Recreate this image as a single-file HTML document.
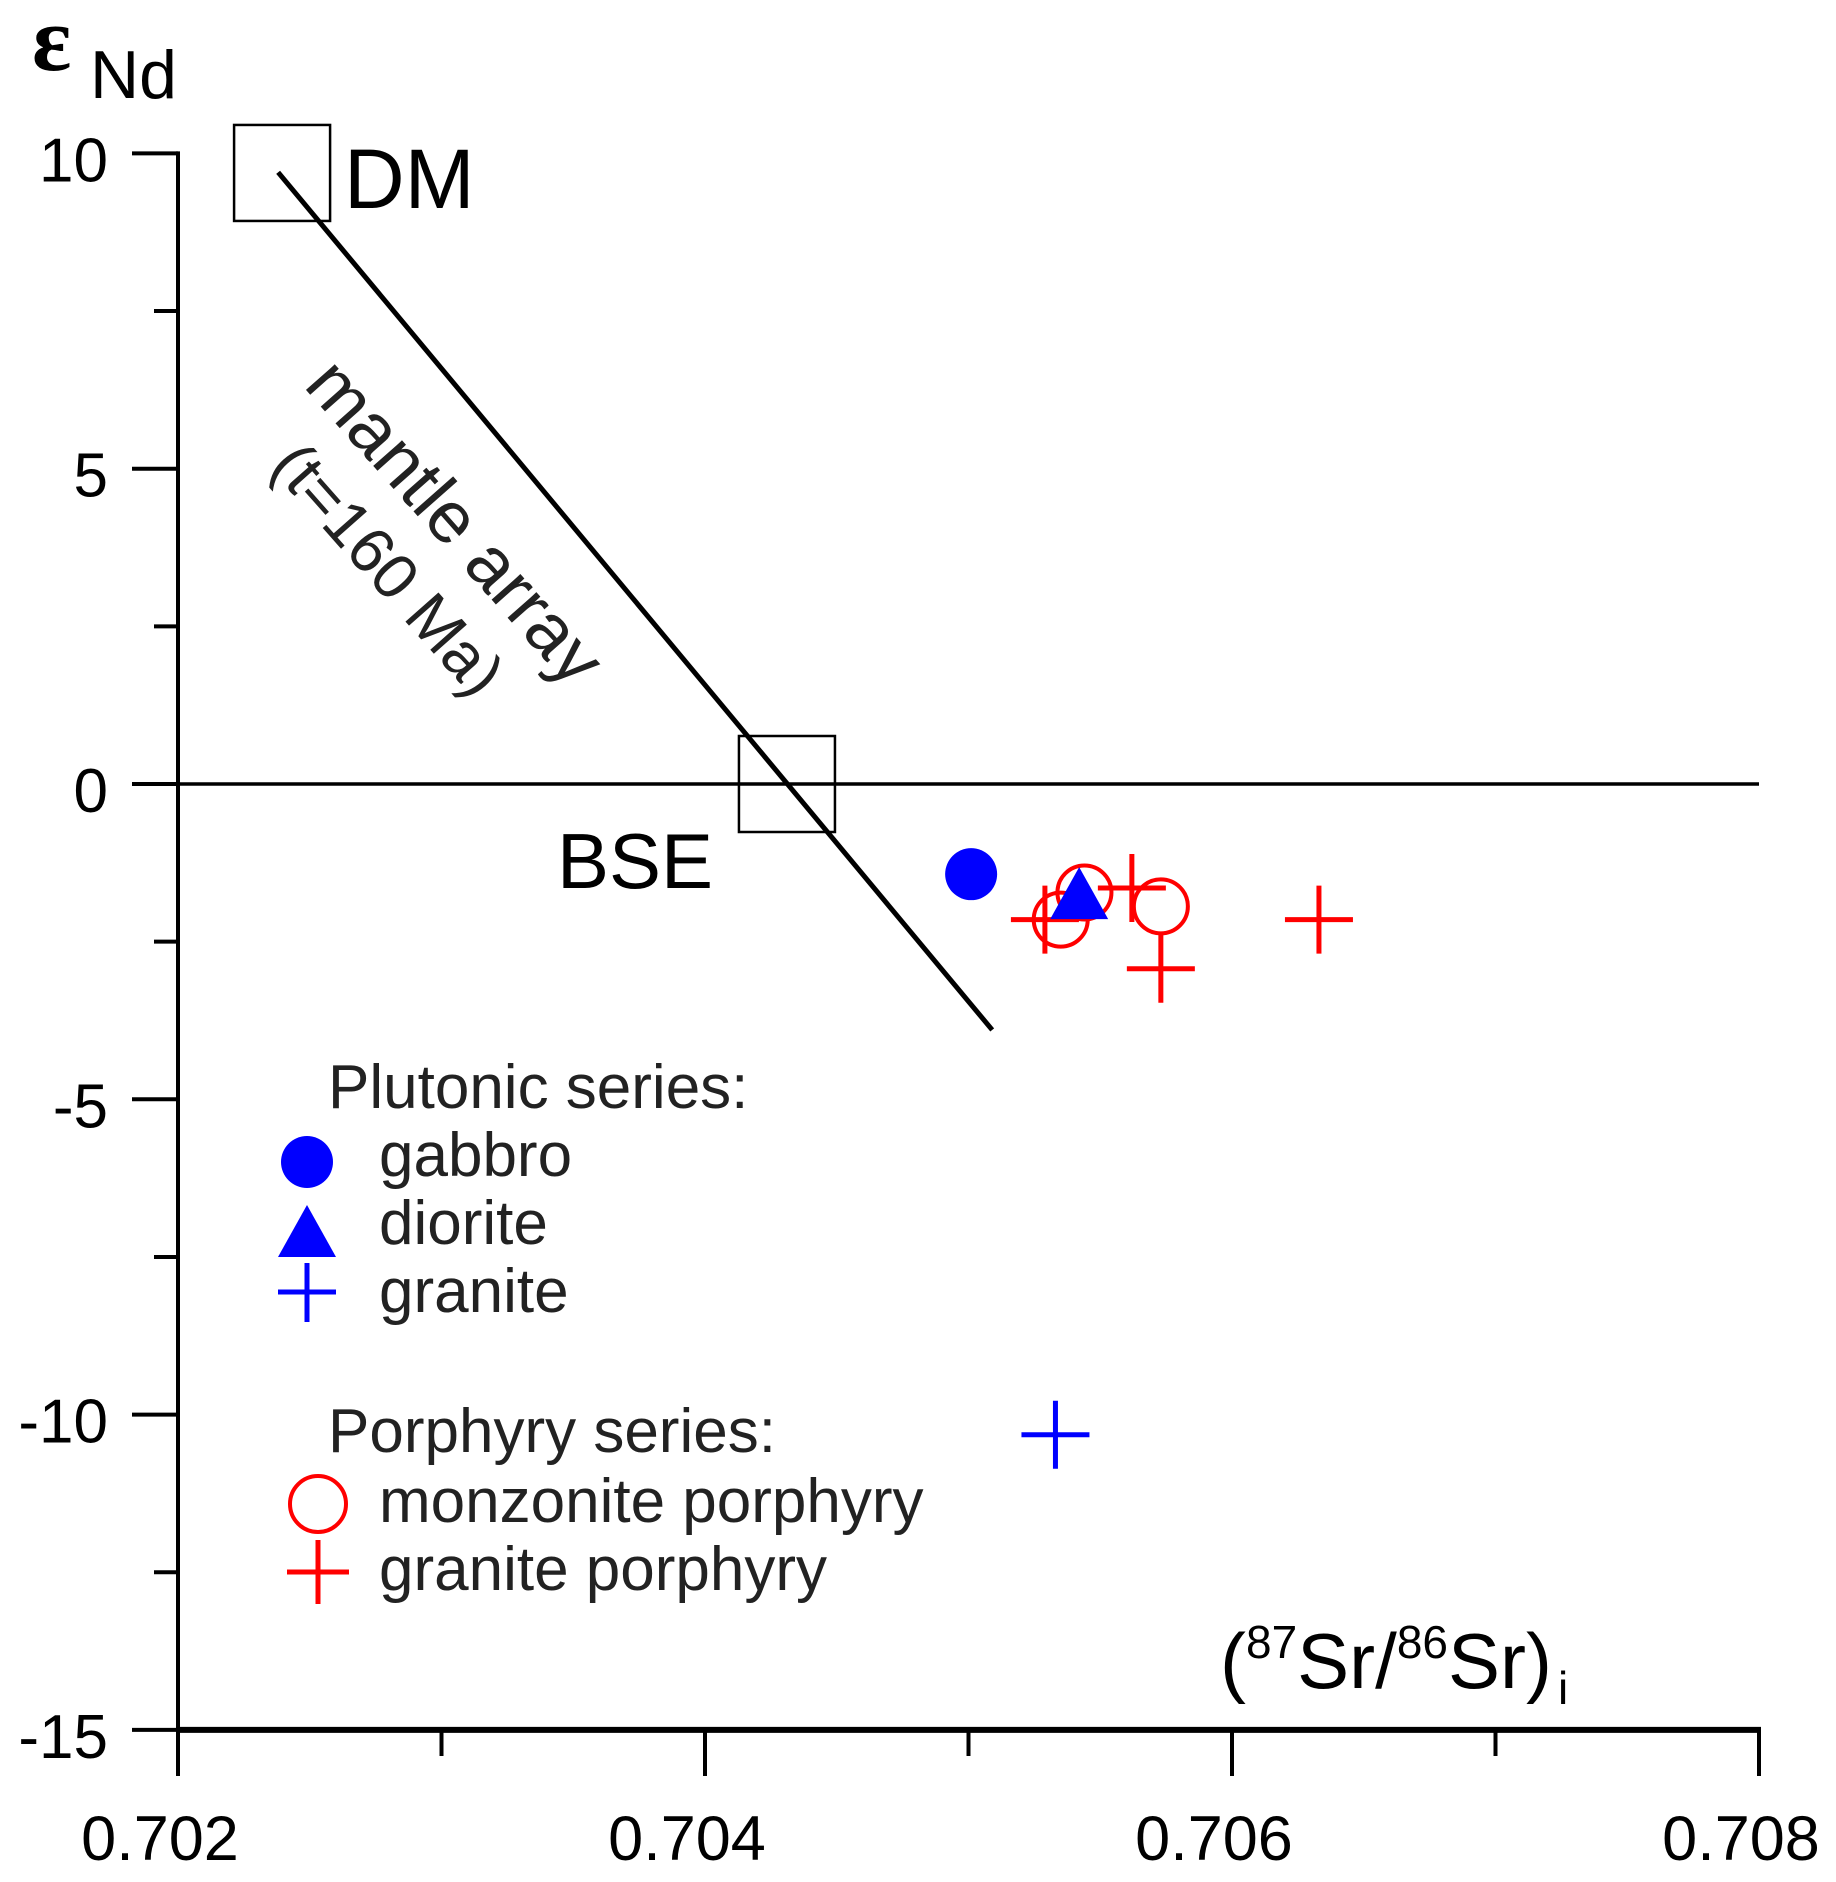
<!DOCTYPE html>
<html><head><meta charset="utf-8"><style>
html,body{margin:0;padding:0;background:#fff;}
svg{display:block;font-family:"Liberation Sans",Arial,sans-serif;}
</style></head><body>
<svg width="1836" height="1882" viewBox="0 0 1836 1882">
<g id="axes"></g>
<g id="marks"></g>
<g>
  <text x="32" y="70" font-family="'Liberation Serif',serif" font-weight="bold" font-size="92">ε</text>
  <text x="90" y="98" font-size="68">Nd</text>
</g>
<g>
  <text x="1220" y="1688" font-size="78">(<tspan font-size="46" dy="-30">87</tspan><tspan dy="30">Sr/</tspan><tspan font-size="46" dy="-30">86</tspan><tspan dy="30">Sr)</tspan><tspan font-size="46" dx="6" dy="16">i</tspan></text>
</g>
<text x="344" y="208" font-size="84">DM</text>
<text x="557" y="888" font-size="78">BSE</text>
<g transform="translate(450,524) rotate(48.5)">
  <text x="2" y="19" font-size="73" text-anchor="middle" fill="#222">mantle array</text>
  <text x="-7" y="98" font-size="64" text-anchor="middle" fill="#222">(t=160 Ma)</text>
</g>
<g fill="#222" font-size="62">
  <text x="328" y="1108">Plutonic series:</text>
  <circle cx="307" cy="1162" r="26" fill="#0000ff"/>
  <text x="379" y="1176">gabbro</text>
  <polygon points="307,1205 278,1257 336,1257" fill="#0000ff"/>
  <text x="379" y="1244">diorite</text>
  <g stroke="#0000ff" stroke-width="5"><line x1="278" y1="1292" x2="336" y2="1292"/><line x1="307" y1="1263" x2="307" y2="1322"/></g>
  <text x="379" y="1312">granite</text>
  <text x="328" y="1452">Porphyry series:</text>
  <circle cx="318" cy="1504" r="28" fill="none" stroke="#ff0000" stroke-width="4"/>
  <text x="379" y="1522">monzonite porphyry</text>
  <g stroke="#ff0000" stroke-width="5"><line x1="287" y1="1572" x2="349" y2="1572"/><line x1="318" y1="1540" x2="318" y2="1604"/></g>
  <text x="379" y="1590">granite porphyry</text>
</g>
</svg>
<script>
const xTicks=[0.702,0.703,0.704,0.705,0.706,0.707,0.708];
const xTickLabels=["0.702","","0.704","","0.706","","0.708"];
const yTicks=[10,7.5,5,2.5,0,-2.5,-5,-7.5,-10,-12.5,-15];
const yTickLabels=["10","","5","","0","","-5","","-10","","-15"];
const gabbroX=[0.70501], gabbroY=[-1.43];
const dioriteX=[0.70542], dioriteY=[-1.73];
const graniteX=[0.70533], graniteY=[-10.32];
const monzX=[0.70535,0.70544,0.70573], monzY=[-2.15,-1.72,-1.94];
const gpX=[0.70529,0.70562,0.70573,0.70633], gpY=[-2.15,-1.65,-2.93,-2.15];
const arrayX=[0.70238,0.70509], arrayY=[9.7,-3.9];
const boxX=[0.702395,0.704311], boxY=[9.69,0];

const NS="http://www.w3.org/2000/svg";
const X=v=>178+(v-0.702)/0.006*1581;
const Y=v=>784-v*63.06;
function mk(tag,attrs,parent){const e=document.createElementNS(NS,tag);for(const k in attrs)e.setAttribute(k,attrs[k]);parent.appendChild(e);return e;}
const ax=document.getElementById('axes'), mk_=document.getElementById('marks');
let e=mk('line',{x1:178,y1:Y(10)-2,x2:178,y2:Y(-15)+3,stroke:'#000','stroke-width':4},ax);


e=mk('line',{x1:176,y1:Y(-15),x2:X(0.708)+2,y2:Y(-15),stroke:'#000','stroke-width':6},ax);


e=mk('line',{x1:132,y1:Y(0),x2:X(0.708),y2:Y(0),stroke:'#000','stroke-width':3.5},ax);


yTicks.forEach((t,i)=>{const major=yTickLabels[i]!=="";
 e=mk('line',{x1:major?132:154,y1:Y(t),x2:178,y2:Y(t),stroke:'#000','stroke-width':4},ax);
 
 
 if(major){e=mk('text',{x:108,y:Y(t)+28,'text-anchor':'end','font-size':62},ax);e.textContent=yTickLabels[i];
 
 }
});
xTicks.forEach((t,i)=>{const major=xTickLabels[i]!=="";
 e=mk('line',{x1:X(t),y1:Y(-15),x2:X(t),y2:major?1776:1756,stroke:'#000','stroke-width':4},ax);
 
 
 if(major){e=mk('text',{x:X(t)-18,y:1860,'text-anchor':'middle','font-size':63},ax);e.textContent=xTickLabels[i];
 
 }
});
boxX.forEach((v,i)=>{e=mk('rect',{x:X(v)-48,y:Y(boxY[i])-48,width:96,height:96,fill:'none',stroke:'#000','stroke-width':2.5},ax);
 
 });
e=mk('line',{x1:X(arrayX[0]),y1:Y(arrayY[0]),x2:X(arrayX[1]),y2:Y(arrayY[1]),stroke:'#000','stroke-width':5},ax);


function cross(x,y,c,name){const g=mk('g',{stroke:c,'stroke-width':5},mk_);
 mk('line',{x1:x-34,y1:y,x2:x+34,y2:y},g);mk('line',{x1:x,y1:y-34,x2:x,y2:y+34},g);
 
 }
gabbroX.forEach((v,i)=>{e=mk('circle',{cx:X(v),cy:Y(gabbroY[i]),r:26,fill:'#0000ff'},mk_);
 
 });
gpX.forEach((v,i)=>cross(X(v),Y(gpY[i]),'#ff0000','granite-porphyry-point'));
monzX.forEach((v,i)=>{e=mk('circle',{cx:X(v),cy:Y(monzY[i]),r:27,fill:'none',stroke:'#ff0000','stroke-width':4},mk_);
 
 });
dioriteX.forEach((v,i)=>{const x=X(v),y=Y(dioriteY[i]);
 e=mk('polygon',{points:`${x},${y-26} ${x-29},${y+26} ${x+29},${y+26}`,fill:'#0000ff'},mk_);
 
 });
graniteX.forEach((v,i)=>cross(X(v),Y(graniteY[i]),'#0000ff','granite-point'));
</script>
</body></html>
